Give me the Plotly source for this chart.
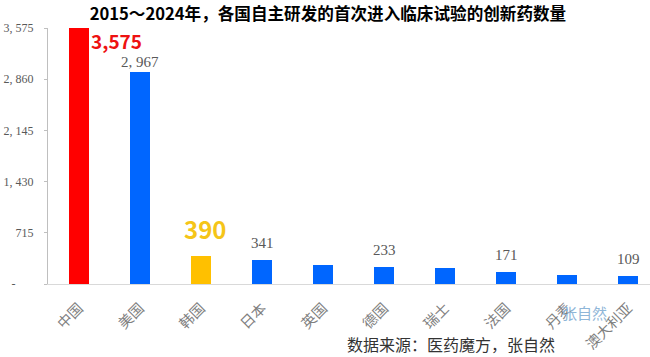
import plotly.graph_objects as go

countries = ["中国", "美国", "韩国", "日本", "英国", "德国", "瑞士", "法国", "丹麦", "澳大利亚"]
counts = [3575, 2967, 390, 341, 265, 233, 217, 171, 122, 109]
bar_colors = ["#FF0000", "#0066FF", "#FFC000", "#0066FF", "#0066FF", "#0066FF",
              "#0066FF", "#0066FF", "#0066FF", "#0066FF"]
labeled = ["美国", "日本", "德国", "法国", "澳大利亚"]
y_tickvals = [0, 715, 1430, 2145, 2860, 3575]
y_ticktext = ["-\u00a0\u00a0\u00a0\u00a0\u00a0\u00a0", "715", "1, 430", "2, 145", "2, 860", "3, 575"]

title = "2015～2024年，各国自主研发的首次进入临床试验的创新药数量"
source = "数据来源：医药魔方，张自然"
watermark = "张自然"

serif = "Liberation Serif, DejaVu Serif, Noto Sans CJK SC, serif"
sans_bold = "Noto Sans CJK SC, Noto Sans, sans-serif"

fig = go.Figure(go.Bar(
    x=countries, y=counts, marker=dict(color=bar_colors, line=dict(width=0)),
    width=0.33, hoverinfo="x+y",
))

def fmt(v):
    return f"{v:,}".replace(",", ", ")

anns = []
for c, v in zip(countries, counts):
    if c in labeled:
        anns.append(dict(x=c, y=v, xref="x", yref="y", text=fmt(v), showarrow=False,
                         yanchor="bottom", yshift=0 if v > 2000 else 7,
                         font=dict(family=serif, size=15, color="#595959")))
# highlighted labels
anns.append(dict(x=countries[0], y=counts[0], xref="x", yref="y",
                 text=f"<b>{counts[0]:,}</b>", showarrow=False,
                 xanchor="left", yanchor="middle", xshift=10, yshift=-12,
                 font=dict(family=sans_bold, size=19, color="#EE1111")))
anns.append(dict(x=countries[2], y=counts[2], xref="x", yref="y",
                 text=f"<b>{counts[2]}</b>", showarrow=False,
                 yanchor="bottom", yshift=8, xshift=4,
                 font=dict(family=sans_bold, size=24, color="#F5C518")))
anns.append(dict(x=0.892, y=-0.113, xref="paper", yref="paper", text=watermark,
                 showarrow=False, xanchor="center", yanchor="middle",
                 font=dict(family="Noto Sans CJK SC, sans-serif", size=15, color="#8FB6D8")))
anns.append(dict(x=0.669, y=-0.242, xref="paper", yref="paper", text=source,
                 showarrow=False, xanchor="center", yanchor="middle",
                 font=dict(family=serif, size=16, color="#333333")))

fig.update_layout(
    width=650, height=357,
    margin=dict(l=48, r=0, t=28, b=73),
    paper_bgcolor="white", plot_bgcolor="white",
    showlegend=False,
    title=dict(text=f"<b>{title}</b>", x=0.465, xref="paper", xanchor="center",
               y=0.961, yref="container", yanchor="middle",
               font=dict(family=sans_bold, size=16.6, color="#000000")),
    annotations=anns,
    bargap=0,
)
fig.update_xaxes(range=[-0.508, 9.36], showgrid=False, showline=True, linecolor="#D9D9D9",
                 linewidth=1, ticks="", tickangle=-45, ticklabelstandoff=9,
                 tickfont=dict(family=serif, size=14.5, color="#7F7F7F"), zeroline=False)
fig.update_yaxes(range=[0, 3575], tickvals=y_tickvals, ticktext=y_ticktext,
                 showgrid=False, showline=True, linecolor="#BFBFBF", linewidth=1,
                 ticks="outside", ticklen=3, tickcolor="#BFBFBF", ticklabelstandoff=8,
                 zeroline=False,
                 tickfont=dict(family=serif, size=12, color="#595959"))

fig.write_html("out.html", config={"displayModeBar": False},
               post_script="document.body.style.margin='0';")
